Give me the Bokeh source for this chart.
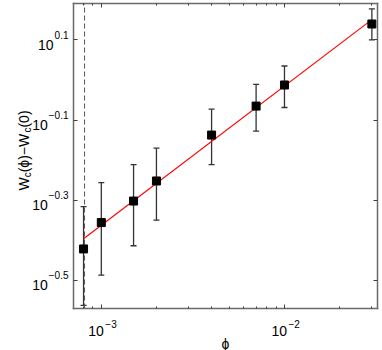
import numpy as np
from bokeh.plotting import figure
from bokeh.models import (ColumnDataSource, Whisker, TeeHead, Label, LogAxis,
                          FixedTicker, Range1d, LogScale)
from bokeh.embed import file_html
from bokeh.resources import INLINE

# ---- data ----
phi = [8.0e-4, 1.0e-3, 1.5e-3, 2.0e-3, 4.0e-3, 7.0e-3, 1.0e-2, 3.0e-2]
dw = [0.379, 0.441, 0.499, 0.560, 0.729, 0.861, 0.972, 1.380]
err_hi = [0.483, 0.555, 0.615, 0.676, 0.846, 0.975, 1.084, 1.505]
err_lo = [0.274, 0.326, 0.386, 0.447, 0.615, 0.746, 0.854, 1.259]
fit_phi = [8.0e-4, 3.0e-2]
fit_dw = [0.402, 1.415]
phi_c = 8.1e-4

x_major = [1e-3, 1e-2]
x_major_exp = ["\u22123", "\u22122"]
x_minor = [8e-4, 9e-4, 2e-3, 3e-3, 4e-3, 5e-3, 6e-3, 7e-3, 8e-3, 9e-3, 2e-2, 3e-2]
y_major_exp = ["0.1", "\u22120.1", "\u22120.3", "\u22120.5"]
y_major = [10 ** float(s.replace("\u2212", "-")) for s in y_major_exp]

x_lim = (7.05e-4, 3.22e-2)     # axis box extent
y_lim = (10 ** -0.57, 10 ** 0.191)

# ---- canvas layout (pixels) ----
W, H = 382, 350
BOX_L, BOX_R, BOX_T, BOX_B = 73, 377, 3, 308
FONT = "Liberation Sans"
W_EM = {"0": .556, "1": .556, "2": .556, "3": .556, "4": .556, "5": .556,
        ".": .278, "\u2212": .584, "W": .944, "c": .5, "(": .333, ")": .333,
        "\u03d5": .65}


def tw(s, size):
    return sum(W_EM.get(ch, .556) for ch in s) * size


# extend the ranges so that the frame fills the canvas and the box sits where it should
lx0, lx1 = np.log10(x_lim[0]), np.log10(x_lim[1])
kx = (lx1 - lx0) / (BOX_R - BOX_L)
ly0, ly1 = np.log10(y_lim[0]), np.log10(y_lim[1])
ky = (ly1 - ly0) / (BOX_B - BOX_T)
xr = Range1d(10 ** (lx0 - BOX_L * kx), 10 ** (lx1 + (W - BOX_R) * kx))
yr = Range1d(10 ** (ly0 - (H - BOX_B) * ky), 10 ** (ly1 + BOX_T * ky))

p = figure(width=W, height=H, x_axis_type=None, y_axis_type=None,
           x_range=xr, y_range=yr, output_backend="svg", toolbar_location=None,
           min_border=0, min_border_left=0, min_border_right=0,
           min_border_top=0, min_border_bottom=0)
p.x_scale = LogScale()
p.y_scale = LogScale()
p.grid.visible = False
p.outline_line_color = None
p.background_fill_color = "white"
p.border_fill_color = "white"

xt = FixedTicker(ticks=x_major, minor_ticks=x_minor)
yt = FixedTicker(ticks=y_major, minor_ticks=[])

BOX_COLOR = "#6a6a6a"


def make_axis(side, ticker, loc, bounds):
    ax = LogAxis(ticker=ticker, fixed_location=loc, bounds=bounds)
    ax.axis_line_color = BOX_COLOR
    ax.axis_line_width = 1.5
    ax.axis_line_cap = "square"
    ax.major_tick_in = 4
    ax.major_tick_out = 0
    ax.minor_tick_in = 2
    ax.minor_tick_out = 0
    ax.major_tick_line_color = "#404040"
    ax.minor_tick_line_color = "#404040"
    ax.major_label_text_color = None
    ax.major_label_text_font_size = "0px"
    ax.major_label_standoff = 0
    ax.axis_label = None
    p.add_layout(ax, side)


make_axis("below", xt, y_lim[0], x_lim)
make_axis("above", xt, y_lim[1], x_lim)
make_axis("left", yt, x_lim[0], y_lim)
make_axis("right", yt, x_lim[1], y_lim)

src = ColumnDataSource(dict(phi=phi, dw=dw, hi=err_hi, lo=err_lo))

p.segment(x0=[phi_c], y0=[y_lim[0]], x1=[phi_c], y1=[y_lim[1]],
          line_color="#555555", line_dash="5 3", line_width=1)

p.add_layout(Whisker(source=src, base="phi", upper="hi", lower="lo",
                     dimension="height", line_color="#333333", line_width=1.3,
                     upper_head=TeeHead(size=6, line_color="#333333", line_width=1.3),
                     lower_head=TeeHead(size=6, line_color="#333333", line_width=1.3)))

p.line(fit_phi, fit_dw, line_color="red", line_width=1.2)
p.scatter("phi", "dw", source=src, marker="square", size=8,
          fill_color="black", line_color="black")


def lab(x, y, text, xo, yo, size, align, angle=0.0):
    p.add_layout(Label(x=x, y=y, text=text, x_offset=xo, y_offset=yo,
                       text_align=align, text_baseline="alphabetic", angle=angle,
                       text_font=FONT, text_font_size=f"{size}px", text_color="black"))


# x tick labels 10^{e}
for t, e in zip(x_major, x_major_exp):
    lab(t, y_lim[0], "10", 2.5, -22, 14, "right")
    lab(t, y_lim[0], e, 4, -15, 10, "left")
# y tick labels 10^{e}
for yv, e in zip(y_major, y_major_exp):
    lab(x_lim[0], yv, e, -5, 5, 10, "right")
    lab(x_lim[0], yv, "10", -5 - tw(e, 10) - 1, -5, 14, "right")
# x label
lab(np.sqrt(x_lim[0] * x_lim[1]), y_lim[0], "\u03d5", 0, -35, 14, "center")

# y label W_c(phi) - W_c(0), rotated
pieces = [("W", 14, 0), ("c", 10, 1), ("(\u03d5)\u2212W", 14, 0), ("c", 10, 1), ("(0)", 14, 0)]
L = sum(tw(s, sz) for s, sz, _ in pieces)
pos = 158 - L / 2
for s, sz, sub in pieces:
    lab(x_lim[0], y_lim[0], s, -50 + (3.5 if sub else 0), pos, sz, "left", angle=np.pi / 2)
    pos += tw(s, sz)

open("out.html", "w").write(file_html(p, INLINE))
